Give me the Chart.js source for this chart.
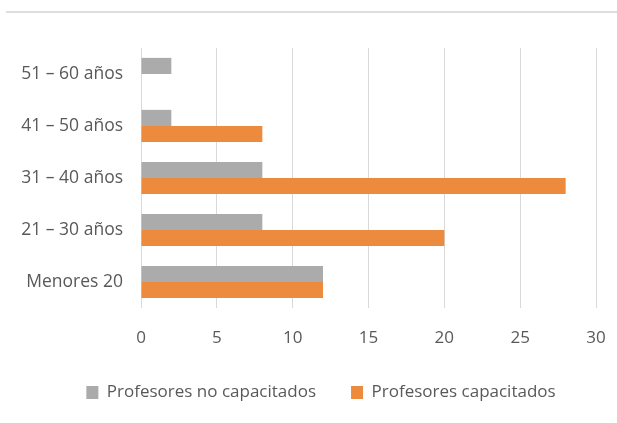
<!DOCTYPE html>
<html><head><meta charset="utf-8">
<script src="https://cdn.jsdelivr.net/npm/chart.js@4/dist/chart.umd.min.js"></script>
<style>
html,body{margin:0;padding:0;background:#fff;overflow:hidden;}
#wrap{position:relative;width:617px;height:423px;}
#topline{position:absolute;left:6px;right:0;top:11px;height:2px;background:#dedede;}
canvas{position:absolute;left:0;top:0;}
</style></head><body>
<div id="wrap"><div id="topline"></div><canvas id="c" width="617" height="423"></canvas></div>
<script>
const categories = ['51 – 60 años', '41 – 50 años', '31 – 40 años', '21 – 30 años', 'Menores 20'];
const noCapacitados = [2, 2, 8, 8, 12];
const capacitados = [0, 8, 28, 20, 12];
const xTicks = [0, 5, 10, 15, 20, 25, 30];
const seriesNames = ['Profesores no capacitados', 'Profesores capacitados'];

const FONT = "'Open Sans', sans-serif";
const legendShift = {
  id: 'legendShift',
  afterLayout(chart) {
    if (chart.legend) { chart.legend.left += 23; chart.legend.right += 23; }
  }
};
new Chart(document.getElementById('c'), {
  type: 'bar',
  data: {
    labels: categories,
    datasets: [
      { label: seriesNames[0], data: noCapacitados, backgroundColor: '#ABABAB', borderWidth: 0 },
      { label: seriesNames[1], data: capacitados, backgroundColor: '#EC8A3D', borderWidth: 0 }
    ]
  },
  plugins: [legendShift],
  options: {
    indexAxis: 'y',
    responsive: false,
    animation: false,
    layout: { padding: { top: 48, right: 21, left: 0, bottom: 12 } },
    datasets: { bar: { categoryPercentage: 0.62, barPercentage: 1.0 } },
    scales: {
      x: {
        min: xTicks[0], max: xTicks[xTicks.length - 1],
        afterBuildTicks: s => { s.ticks = xTicks.map(v => ({ value: v })); },
        grid: { color: '#D9D9D9', lineWidth: 1, drawTicks: true, tickLength: 10, tickColor: 'rgba(0,0,0,0)' },
        border: { display: false },
        ticks: { color: '#595959', font: { family: FONT, size: 17 }, padding: 10 },
        afterFit: s => { s.height = 41; }
      },
      y: {
        grid: { display: false, drawTicks: false },
        border: { display: false },
        ticks: { color: '#595959', font: { family: FONT, size: 17.5 }, padding: 18 },
        afterFit: s => { s.width = 141; }
      }
    },
    plugins: {
      tooltip: { enabled: false },
      legend: {
        position: 'bottom',
        labels: {
          color: '#595959', font: { family: FONT, size: 17 },
          boxWidth: 12, boxHeight: 13, padding: 35
        }
      }
    }
  }
});
</script>
</body></html>
